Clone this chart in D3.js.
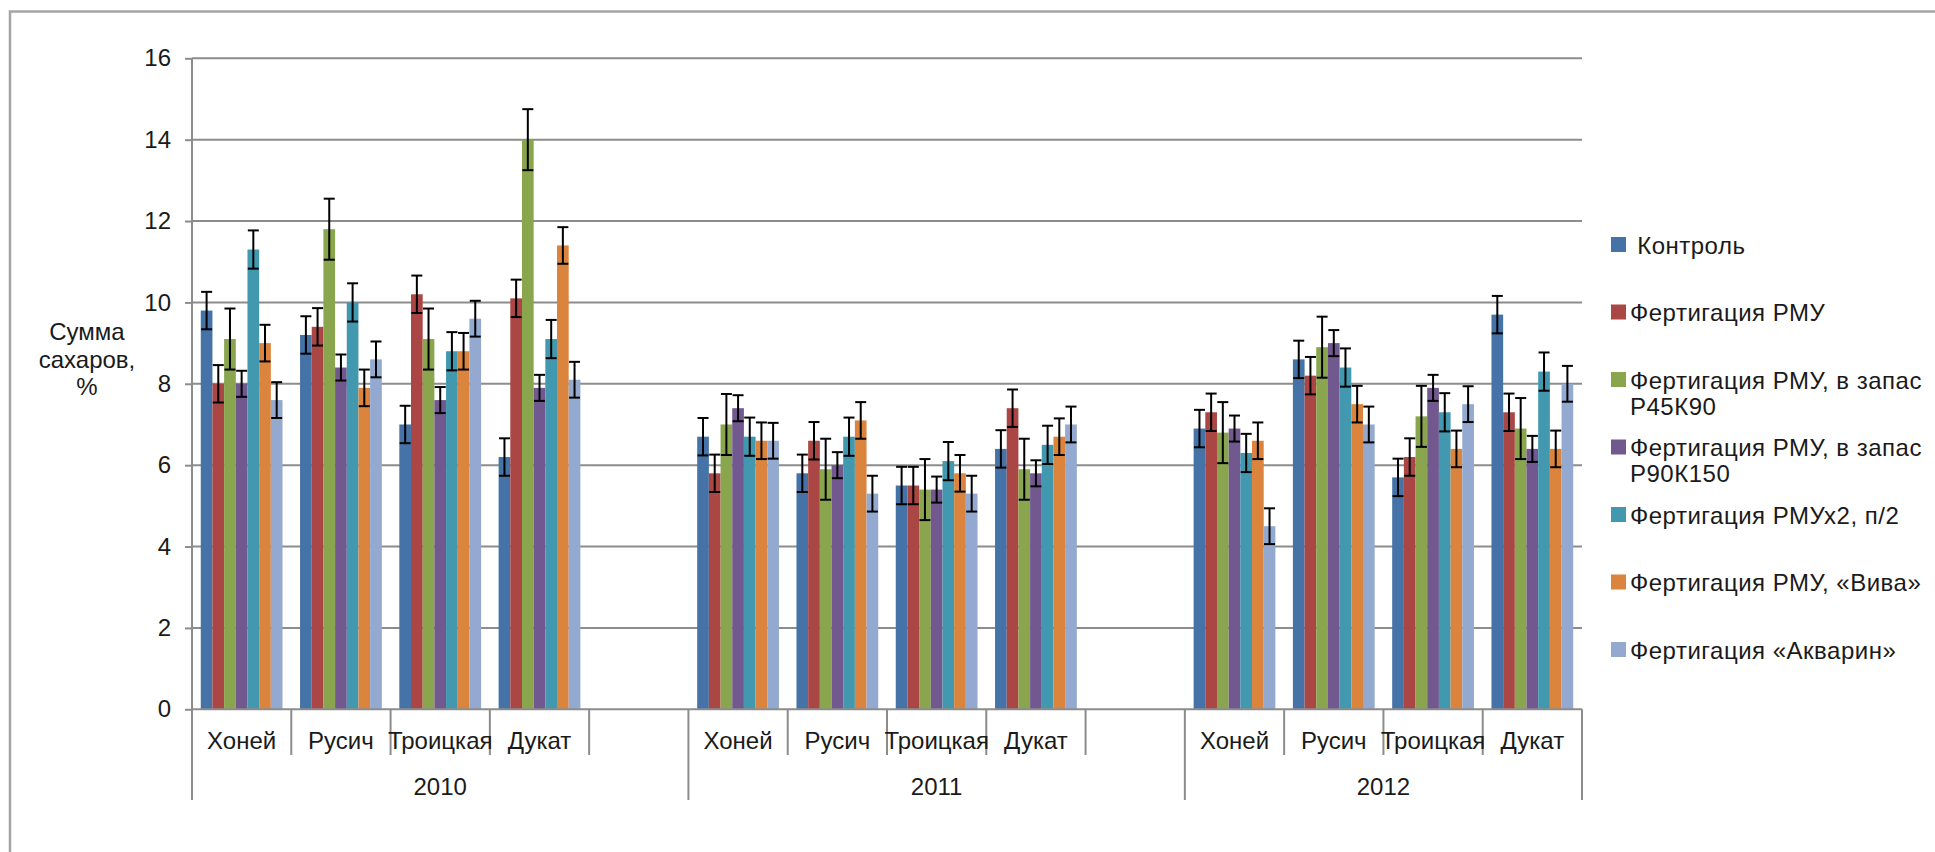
<!DOCTYPE html>
<html>
<head>
<meta charset="utf-8">
<script src="https://cdn.jsdelivr.net/npm/d3@7"></script>
<style>
    body { margin: 0; background: #fff; }
    text { font-family: "Liberation Sans", Arial, sans-serif; fill: #1a1a1a; }
</style>
</head>
<body>
<div id="chart"></div>
<script>
// Data
const years = ['2010', '2011', '2012'];
const varieties = ['Хоней', 'Русич', 'Троицкая', 'Дукат'];
const seriesNames = [
    'Контроль',
    'Фертигация РМУ',
    'Фертигация РМУ, в запас Р45К90',
    'Фертигация РМУ, в запас Р90К150',
    'Фертигация РМУх2, п/2',
    'Фертигация РМУ, «Вива»',
    'Фертигация «Акварин»'
];
// legend lines as they wrap in the picture
const legendLines = [
    [' Контроль'],
    ['Фертигация РМУ'],
    ['Фертигация РМУ, в запас', 'Р45К90'],
    ['Фертигация РМУ, в запас', 'Р90К150'],
    ['Фертигация РМУх2, п/2'],
    ['Фертигация РМУ, «Вива»'],
    ['Фертигация «Акварин»']
];
// values: 2010 (Хоней, Русич, Троицкая, Дукат), 2011 (...), 2012 (...)
const kontrol  = [9.8, 9.2, 7.0, 6.2,   6.7, 5.8, 5.5, 6.4,   6.9, 8.6, 5.7, 9.7];
const rmu      = [8.0, 9.4, 10.2, 10.1, 5.8, 6.6, 5.5, 7.4,   7.3, 8.2, 6.2, 7.3];
const rmuP45   = [9.1, 11.8, 9.1, 14.0, 7.0, 5.9, 5.4, 5.9,   6.8, 8.9, 7.2, 6.9];
const rmuP90   = [8.0, 8.4, 7.6, 7.9,   7.4, 6.0, 5.4, 5.8,   6.9, 9.0, 7.9, 6.4];
const rmuX2    = [11.3, 10.0, 8.8, 9.1, 6.7, 6.7, 6.1, 6.5,   6.3, 8.4, 7.3, 8.3];
const viva     = [9.0, 7.9, 8.8, 11.4,  6.6, 7.1, 5.8, 6.7,   6.6, 7.5, 6.4, 6.4];
const akvarin  = [7.6, 8.6, 9.6, 8.1,   6.6, 5.3, 5.3, 7.0,   4.5, 7.0, 7.5, 8.0];
const errors   = [0.46, 0.46, 0.75, 0.32, 0.47, 0.45, 0.44];
const yTicks = [0, 2, 4, 6, 8, 10, 12, 14, 16];

const seriesValues = [kontrol, rmu, rmuP45, rmuP90, rmuX2, viva, akvarin];
const colors = ['#4572A7', '#AA4643', '#89A54E', '#71588F', '#4198AF', '#DB843D', '#93A9CF'];

// slots: 4 varieties per year, an empty slot after 2010 and 2011
const slots = [];
years.forEach((yr, i) => {
    varieties.forEach(v => slots.push({ key: yr + '|' + v, year: yr, label: v }));
    if (i < years.length - 1) slots.push({ key: yr + '|gap', year: yr, label: '' });
});

const rows = [];
years.forEach((yr, yi) => {
    varieties.forEach((v, vi) => {
        seriesNames.forEach((s, si) => {
            rows.push({
                slot: yr + '|' + v,
                series: s,
                si: si,
                value: seriesValues[si][yi * 4 + vi],
                err: errors[si]
            });
        });
    });
});

// Dimensions
const dimensions = {
    width: 1935,
    height: 852,
    left: 192,
    right: 1582,
    top: 58.3,
    bottom: 709.3
};

const svg = d3.select('#chart')
    .append('svg')
    .attr('width', dimensions.width)
    .attr('height', dimensions.height);

// outer frame (runs off right and bottom edges)
svg.append('rect')
    .attr('x', 10).attr('y', 11.5)
    .attr('width', 3000).attr('height', 3000)
    .attr('fill', 'none')
    .attr('stroke', '#a5a5a5')
    .attr('stroke-width', 2.5);

// Scales
const xScale = d3.scaleBand()
    .domain(slots.map(d => d.key))
    .range([dimensions.left, dimensions.right])
    .padding(0);

const innerScale = d3.scaleBand()
    .domain(seriesNames)
    .range([0, xScale.bandwidth()])
    .paddingInner(0)
    .paddingOuter(0.75);

const yScale = d3.scaleLinear()
    .domain([0, 16])
    .range([dimensions.bottom, dimensions.top]);

// gridlines
svg.append('g')
    .selectAll('line')
    .data(yTicks.filter(d => d > 0))
    .join('line')
    .attr('x1', dimensions.left)
    .attr('x2', dimensions.right)
    .attr('y1', d => yScale(d))
    .attr('y2', d => yScale(d))
    .attr('stroke', '#8c8c8c')
    .attr('stroke-width', 2);

// y axis
const yAxis = d3.axisLeft(yScale)
    .tickValues(yTicks)
    .tickSize(7)
    .tickPadding(14);

const yAxisGroup = svg.append('g')
    .attr('transform', `translate(${dimensions.left}, 0)`)
    .call(yAxis);
yAxisGroup.select('.domain').remove();
yAxisGroup.selectAll('line').attr('stroke', '#8c8c8c').attr('stroke-width', 2);
yAxisGroup.selectAll('text')
    .attr('font-size', 24)
    .attr('fill', '#1a1a1a')
    .style('font-family', '"Liberation Sans", Arial, sans-serif');

svg.append('line')
    .attr('x1', dimensions.left).attr('x2', dimensions.left)
    .attr('y1', dimensions.top).attr('y2', dimensions.bottom)
    .attr('stroke', '#8c8c8c').attr('stroke-width', 2);

// y title
svg.append('text')
    .attr('text-anchor', 'middle')
    .attr('font-size', 24)
    .selectAll('tspan')
    .data(['Сумма', 'сахаров,', '%'])
    .join('tspan')
    .attr('x', 87)
    .attr('y', (d, i) => 340 + i * 27.5)
    .text(d => d);

// bars
svg.append('g')
    .selectAll('rect')
    .data(rows)
    .join('rect')
    .attr('x', d => xScale(d.slot) + innerScale(d.series))
    .attr('y', d => yScale(d.value))
    .attr('width', innerScale.bandwidth())
    .attr('height', d => yScale(0) - yScale(d.value))
    .attr('fill', d => colors[d.si]);

// error bars
const errGroup = svg.append('g')
    .attr('stroke', '#000')
    .attr('stroke-width', 2);
const cx = d => xScale(d.slot) + innerScale(d.series) + innerScale.bandwidth() / 2;
const cap = 5.5;

errGroup.selectAll('.stem')
    .data(rows)
    .join('line')
    .classed('stem', true)
    .attr('x1', cx).attr('x2', cx)
    .attr('y1', d => yScale(d.value + d.err))
    .attr('y2', d => yScale(d.value - d.err));
errGroup.selectAll('.cap-top')
    .data(rows)
    .join('line')
    .classed('cap-top', true)
    .attr('x1', d => cx(d) - cap).attr('x2', d => cx(d) + cap)
    .attr('y1', d => yScale(d.value + d.err))
    .attr('y2', d => yScale(d.value + d.err));
errGroup.selectAll('.cap-bottom')
    .data(rows)
    .join('line')
    .classed('cap-bottom', true)
    .attr('x1', d => cx(d) - cap).attr('x2', d => cx(d) + cap)
    .attr('y1', d => yScale(d.value - d.err))
    .attr('y2', d => yScale(d.value - d.err));

// x axis line
svg.append('line')
    .attr('x1', dimensions.left).attr('x2', dimensions.right)
    .attr('y1', dimensions.bottom).attr('y2', dimensions.bottom)
    .attr('stroke', '#8c8c8c').attr('stroke-width', 2);

// separators between categories (long ones at year boundaries)
const boundaries = slots.map(d => ({ x: xScale(d.key), long: d.label === varieties[0] }));
boundaries.push({ x: dimensions.right, long: true });

svg.append('g')
    .selectAll('line')
    .data(boundaries)
    .join('line')
    .attr('x1', d => d.x).attr('x2', d => d.x)
    .attr('y1', dimensions.bottom)
    .attr('y2', d => d.long ? 800 : 755)
    .attr('stroke', '#8c8c8c')
    .attr('stroke-width', 2);

// variety labels
svg.append('g')
    .selectAll('text')
    .data(slots.filter(d => d.label))
    .join('text')
    .attr('x', d => xScale(d.key) + xScale.bandwidth() / 2)
    .attr('y', 749)
    .attr('text-anchor', 'middle')
    .attr('font-size', 24)
    .text(d => d.label);

// year labels
svg.append('g')
    .selectAll('text')
    .data(years)
    .join('text')
    .attr('x', yr => {
        const first = xScale(yr + '|' + varieties[0]);
        const next = years.indexOf(yr) < years.length - 1
            ? xScale(years[years.indexOf(yr) + 1] + '|' + varieties[0])
            : dimensions.right;
        return (first + next) / 2;
    })
    .attr('y', 795)
    .attr('text-anchor', 'middle')
    .attr('font-size', 24)
    .text(d => d);

// legend
const legend = svg.append('g')
    .attr('transform', 'translate(1611, 245)');

const items = legend.selectAll('g')
    .data(seriesNames)
    .join('g')
    .attr('transform', (d, i) => `translate(0, ${i * 67.5})`);

items.append('rect')
    .attr('x', 0).attr('y', -8)
    .attr('width', 15).attr('height', 15)
    .attr('fill', (d, i) => colors[i]);

items.append('text')
    .attr('font-size', 24)
    .attr('letter-spacing', 0.5)
    .style('white-space', 'pre')
    .selectAll('tspan')
    .data((d, i) => legendLines[i])
    .join('tspan')
    .attr('x', 19)
    .attr('y', (d, i) => 8.5 + i * 26)
    .text(d => d);
</script>
</body>
</html>
